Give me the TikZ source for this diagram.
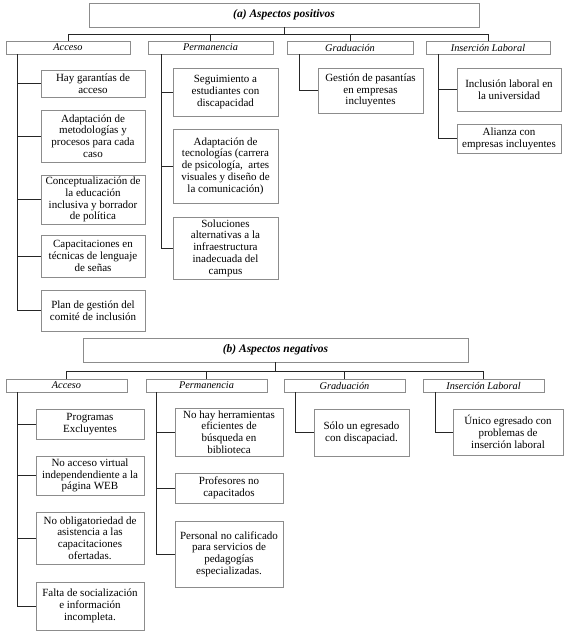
\documentclass[tikz,border=0pt]{standalone}
\usepackage{fontspec}
\setmainfont{Liberation Serif}
\usetikzlibrary{shadows}
\begin{document}
\begin{tikzpicture}[x=1pt,y=-1pt,
  box/.style={draw=black!45, line width=0.8pt, fill=white, align=center, inner sep=0pt,
    drop shadow={shadow xshift=1pt, shadow yshift=-1pt, fill=black!55, opacity=1},
    font=\fontsize{11}{11.8}\selectfont},
  cat/.style={box, font=\fontsize{10.3}{10.5}\selectfont\itshape, minimum height=13pt},
  ttl/.style={box, font=\fontsize{11.5}{12}\selectfont\bfseries\itshape, minimum height=24pt},
  conn/.style={draw=black!85, line width=0.9pt}]
\useasboundingbox (0,0) rectangle (571,636);

% ---------------- (a) ----------------
\node[ttl, minimum width=390pt] (tA) at (284,15) {(a) Aspectos positivos};
\node[cat, minimum width=124pt] (cA1) at (68,47.5) {Acceso};
\node[cat, minimum width=125pt] (cA2) at (210.5,47.5) {Permanencia};
\node[cat, minimum width=126pt] (cA3) at (350,47.5) {Graduación};
\node[cat, minimum width=124pt] (cA4) at (488,47.5) {Inserción Laboral};

\coordinate (busA) at (0,34);
\draw[conn] (tA.south) -- (tA.south |- busA);
\draw[conn] (cA1.north) |- (busA -| cA4.north) -- (cA4.north);
\draw[conn] (cA2.north) -- (cA2.north |- busA);
\draw[conn] (cA3.north) -- (cA3.north |- busA);

\node[box, minimum width=104pt, minimum height=27pt] (a1) at (93,83.5) {Hay garantías de\\acceso};
\node[box, minimum width=104pt, minimum height=52pt] (a2) at (93,136) {Adaptación de\\metodologías y\\procesos para cada\\caso};
\node[box, minimum width=104pt, minimum height=49pt] (a3) at (93,199.5) {Conceptualización de\\la educación\\inclusiva y borrador\\de política};
\node[box, minimum width=104pt, minimum height=42pt] (a4) at (93,256) {Capacitaciones en\\técnicas de lenguaje\\de señas};
\node[box, minimum width=104pt, minimum height=41pt] (a5) at (93,310.5) {Plan de gestión del\\comité de inclusión};
\coordinate (trA1) at ([xshift=12pt]cA1.south west);
\draw[conn] (trA1) |- (a5.west);
\foreach \n in {a1,a2,a3,a4} \draw[conn] (trA1 |- \n.west) -- (\n.west);

\node[box, minimum width=105pt, minimum height=48pt] (p1) at (225.5,92) {Seguimiento a\\estudiantes con\\discapacidad};
\node[box, minimum width=105pt, minimum height=74pt] (p2) at (225.5,166) {Adaptación de\\tecnologías (carrera\\de psicología,\ \ artes\\visuales y diseño de\\la comunicación)};
\node[box, minimum width=105pt, minimum height=62pt] (p3) at (225.5,248) {Soluciones\\alternativas a la\\infraestructura\\inadecuada del\\campus};
\coordinate (trA2) at ([xshift=14pt]cA2.south west);
\draw[conn] (trA2) |- (p3.west);
\foreach \n in {p1,p2} \draw[conn] (trA2 |- \n.west) -- (\n.west);

\node[box, minimum width=105pt, minimum height=45pt] (g1) at (370.5,90.5) {Gestión de pasantías\\en empresas\\incluyentes};
\coordinate (trA3) at ([xshift=13pt]cA3.south west);
\draw[conn] (trA3) |- (g1.west);

\node[box, minimum width=104pt, minimum height=43pt] (i1) at (509,89.5) {Inclusión laboral en\\la universidad};
\node[box, minimum width=104pt, minimum height=29pt] (i2) at (509,138.5) {Alianza con\\empresas incluyentes};
\coordinate (trA4) at ([xshift=13pt]cA4.south west);
\draw[conn] (trA4) |- (i2.west);
\draw[conn] (trA4 |- i1.west) -- (i1.west);

% ---------------- (b) ----------------
\node[ttl, minimum width=385pt] (tB) at (275.5,350) {(b) Aspectos negativos};
\node[cat, minimum width=121pt] (cB1) at (66.5,385.5) {Acceso};
\node[cat, minimum width=121pt] (cB2) at (206.5,385.5) {Permanencia};
\node[cat, minimum width=121pt] (cB3) at (344.5,385.5) {Graduación};
\node[cat, minimum width=121pt] (cB4) at (483.5,385.5) {Inserción Laboral};

\coordinate (busB) at (0,371);
\draw[conn] (tB.south) -- (tB.south |- busB);
\draw[conn] (cB1.north) |- (busB -| cB4.north) -- (cB4.north);
\draw[conn] (cB2.north) -- (cB2.north |- busB);
\draw[conn] (cB3.north) -- (cB3.north |- busB);

\node[box, minimum width=108pt, minimum height=30pt] (b1) at (90,424) {Programas\\Excluyentes};
\node[box, minimum width=108pt, minimum height=39pt] (b2) at (90,475.5) {No acceso virtual\\independendiente a la\\página WEB};
\node[box, minimum width=108pt, minimum height=52pt] (b3) at (90,538) {No obligatoriedad de\\asistencia a las\\capacitaciones\\ofertadas.};
\node[box, minimum width=108pt, minimum height=48pt] (b4) at (90,606) {Falta de socialización\\e información\\incompleta.};
\coordinate (trB1) at ([xshift=12pt]cB1.south west);
\draw[conn] (trB1) |- (b4.west);
\foreach \n in {b1,b2,b3} \draw[conn] (trB1 |- \n.west) -- (\n.west);

\node[box, minimum width=108pt, minimum height=48pt] (q1) at (229,432) {No hay herramientas\\eficientes de\\búsqueda en\\biblioteca};
\node[box, minimum width=108pt, minimum height=30pt] (q2) at (229,488) {Profesores no\\capacitados};
\node[box, minimum width=108pt, minimum height=66pt] (q3) at (229,554) {Personal no calificado\\para servicios de\\pedagogías\\especializadas.};
\coordinate (trB2) at ([xshift=11pt]cB2.south west);
\draw[conn] (trB2) |- (q3.west);
\foreach \n in {q1,q2} \draw[conn] (trB2 |- \n.west) -- (\n.west);

\node[box, minimum width=95pt, minimum height=47pt] (g2) at (361.5,432.5) {Sólo un egresado\\con discapaciad.};
\coordinate (trB3) at ([xshift=12pt]cB3.south west);
\draw[conn] (trB3) |- (g2.west);

\node[box, minimum width=110pt, minimum height=46pt] (j1) at (508,432) {Único egresado con\\problemas de\\inserción laboral};
\coordinate (trB4) at ([xshift=13pt]cB4.south west);
\draw[conn] (trB4) |- (j1.west);
\end{tikzpicture}
\end{document}
